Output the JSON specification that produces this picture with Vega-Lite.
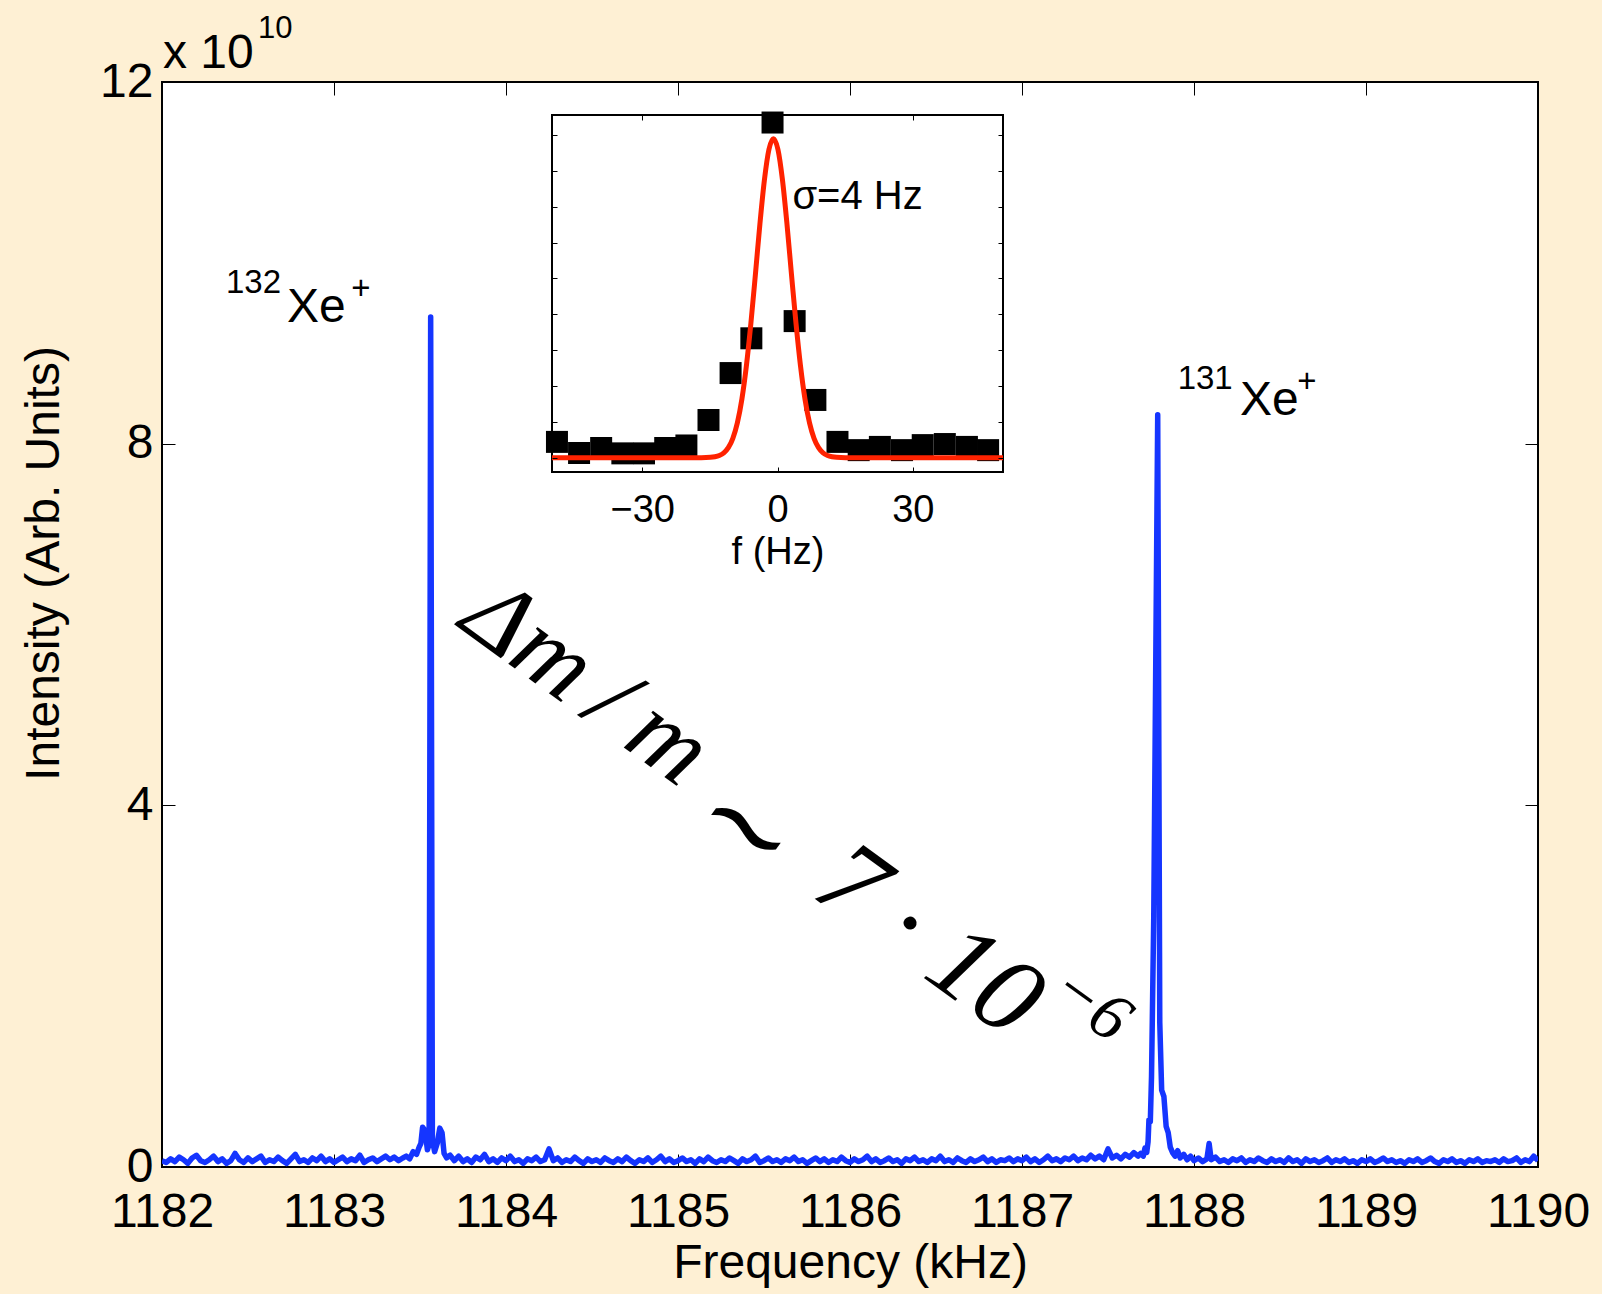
{
"$schema": "https://vega.github.io/schema/vega-lite/v6.json",
"width": 1376, "height": 1085,
"autosize": {"type": "none"},
"padding": {"left": 162, "top": 82, "right": 64, "bottom": 127},
"background": "#FEF0D4",
"config": {
 "font": "Liberation Sans",
 "view": {"fill": "white", "stroke": "black", "strokeWidth": 2},
 "axis": {"domain": false, "grid": false, "tickColor": "black", "labelColor": "black", "titleColor": "black", "titleFontWeight": "normal", "labelFont": "Liberation Sans", "titleFont": "Liberation Sans"}
},
"datasets": {
 "spectrum": [
  {"f":1182.000,"v":0.07},{"f":1182.025,"v":0.05},{"f":1182.050,"v":0.09},{"f":1182.075,"v":0.06},{"f":1182.100,"v":0.11},{"f":1182.125,"v":0.08},{"f":1182.150,"v":0.04},{"f":1182.175,"v":0.10},{"f":1182.200,"v":0.13},{"f":1182.225,"v":0.07},
  {"f":1182.250,"v":0.05},{"f":1182.275,"v":0.08},{"f":1182.300,"v":0.12},{"f":1182.325,"v":0.06},{"f":1182.350,"v":0.09},{"f":1182.375,"v":0.04},{"f":1182.400,"v":0.07},{"f":1182.425,"v":0.15},{"f":1182.450,"v":0.08},{"f":1182.475,"v":0.05},
  {"f":1182.500,"v":0.10},{"f":1182.525,"v":0.06},{"f":1182.550,"v":0.09},{"f":1182.575,"v":0.12},{"f":1182.600,"v":0.05},{"f":1182.625,"v":0.08},{"f":1182.650,"v":0.06},{"f":1182.675,"v":0.11},{"f":1182.700,"v":0.07},{"f":1182.725,"v":0.04},
  {"f":1182.750,"v":0.09},{"f":1182.775,"v":0.14},{"f":1182.800,"v":0.06},{"f":1182.825,"v":0.08},{"f":1182.850,"v":0.05},{"f":1182.875,"v":0.10},{"f":1182.900,"v":0.07},{"f":1182.925,"v":0.12},{"f":1182.950,"v":0.06},{"f":1182.975,"v":0.09},
  {"f":1183.000,"v":0.05},{"f":1183.025,"v":0.08},{"f":1183.050,"v":0.11},{"f":1183.075,"v":0.06},{"f":1183.100,"v":0.09},{"f":1183.125,"v":0.07},{"f":1183.150,"v":0.13},{"f":1183.175,"v":0.05},{"f":1183.200,"v":0.08},{"f":1183.225,"v":0.10},
  {"f":1183.250,"v":0.06},{"f":1183.275,"v":0.09},{"f":1183.300,"v":0.12},{"f":1183.325,"v":0.08},{"f":1183.350,"v":0.11},{"f":1183.375,"v":0.07},
  {"f":1183.400,"v":0.10},{"f":1183.420,"v":0.12},{"f":1183.440,"v":0.09},{"f":1183.460,"v":0.17},{"f":1183.480,"v":0.14},{"f":1183.495,"v":0.22},{"f":1183.505,"v":0.26},{"f":1183.515,"v":0.44},{"f":1183.530,"v":0.40},{"f":1183.543,"v":0.19},
  {"f":1183.553,"v":0.25},{"f":1183.562,"v":9.40},{"f":1183.572,"v":0.30},{"f":1183.585,"v":0.17},{"f":1183.600,"v":0.26},{"f":1183.615,"v":0.43},{"f":1183.628,"v":0.38},{"f":1183.640,"v":0.15},{"f":1183.655,"v":0.10},{"f":1183.675,"v":0.13},
  {"f":1183.700,"v":0.07},
  {"f":1183.725,"v":0.12},{"f":1183.750,"v":0.06},{"f":1183.775,"v":0.09},{"f":1183.800,"v":0.05},{"f":1183.825,"v":0.11},{"f":1183.850,"v":0.08},{"f":1183.875,"v":0.14},{"f":1183.900,"v":0.06},{"f":1183.925,"v":0.09},{"f":1183.950,"v":0.05},
  {"f":1183.975,"v":0.10},{"f":1184.000,"v":0.07},{"f":1184.025,"v":0.12},{"f":1184.050,"v":0.06},{"f":1184.075,"v":0.08},{"f":1184.100,"v":0.04},{"f":1184.125,"v":0.09},{"f":1184.150,"v":0.07},{"f":1184.175,"v":0.11},{"f":1184.200,"v":0.06},
  {"f":1184.225,"v":0.08},{"f":1184.250,"v":0.20},{"f":1184.275,"v":0.07},{"f":1184.300,"v":0.10},{"f":1184.325,"v":0.05},{"f":1184.350,"v":0.08},{"f":1184.375,"v":0.06},{"f":1184.400,"v":0.11},{"f":1184.425,"v":0.07},{"f":1184.450,"v":0.04},
  {"f":1184.475,"v":0.09},{"f":1184.500,"v":0.06},{"f":1184.525,"v":0.08},{"f":1184.550,"v":0.05},{"f":1184.575,"v":0.10},{"f":1184.600,"v":0.07},{"f":1184.625,"v":0.05},{"f":1184.650,"v":0.09},{"f":1184.675,"v":0.06},{"f":1184.700,"v":0.11},
  {"f":1184.725,"v":0.07},{"f":1184.750,"v":0.04},{"f":1184.775,"v":0.08},{"f":1184.800,"v":0.06},{"f":1184.825,"v":0.10},{"f":1184.850,"v":0.05},{"f":1184.875,"v":0.08},{"f":1184.900,"v":0.12},{"f":1184.925,"v":0.06},{"f":1184.950,"v":0.09},
  {"f":1184.975,"v":0.05},{"f":1185.000,"v":0.07},{"f":1185.025,"v":0.10},{"f":1185.050,"v":0.06},{"f":1185.075,"v":0.08},{"f":1185.100,"v":0.04},{"f":1185.125,"v":0.09},{"f":1185.150,"v":0.06},{"f":1185.175,"v":0.11},{"f":1185.200,"v":0.07},
  {"f":1185.225,"v":0.05},{"f":1185.250,"v":0.08},{"f":1185.275,"v":0.06},{"f":1185.300,"v":0.10},{"f":1185.325,"v":0.07},{"f":1185.350,"v":0.04},{"f":1185.375,"v":0.09},{"f":1185.400,"v":0.06},{"f":1185.425,"v":0.08},{"f":1185.450,"v":0.12},
  {"f":1185.475,"v":0.05},{"f":1185.500,"v":0.07},{"f":1185.525,"v":0.10},{"f":1185.550,"v":0.06},{"f":1185.575,"v":0.08},{"f":1185.600,"v":0.05},{"f":1185.625,"v":0.09},{"f":1185.650,"v":0.07},{"f":1185.675,"v":0.11},{"f":1185.700,"v":0.06},
  {"f":1185.725,"v":0.08},{"f":1185.750,"v":0.04},{"f":1185.775,"v":0.07},{"f":1185.800,"v":0.10},{"f":1185.825,"v":0.06},{"f":1185.850,"v":0.09},{"f":1185.875,"v":0.05},{"f":1185.900,"v":0.08},{"f":1185.925,"v":0.06},{"f":1185.950,"v":0.11},
  {"f":1185.975,"v":0.07},{"f":1186.000,"v":0.05},{"f":1186.025,"v":0.09},{"f":1186.050,"v":0.06},{"f":1186.075,"v":0.08},{"f":1186.100,"v":0.12},{"f":1186.125,"v":0.06},{"f":1186.150,"v":0.09},{"f":1186.175,"v":0.05},{"f":1186.200,"v":0.07},
  {"f":1186.225,"v":0.10},{"f":1186.250,"v":0.06},{"f":1186.275,"v":0.08},{"f":1186.300,"v":0.04},{"f":1186.325,"v":0.09},{"f":1186.350,"v":0.07},{"f":1186.375,"v":0.11},{"f":1186.400,"v":0.06},{"f":1186.425,"v":0.08},{"f":1186.450,"v":0.05},
  {"f":1186.475,"v":0.09},{"f":1186.500,"v":0.07},{"f":1186.525,"v":0.12},{"f":1186.550,"v":0.06},{"f":1186.575,"v":0.08},{"f":1186.600,"v":0.05},{"f":1186.625,"v":0.10},{"f":1186.650,"v":0.07},{"f":1186.675,"v":0.05},{"f":1186.700,"v":0.09},
  {"f":1186.725,"v":0.06},{"f":1186.750,"v":0.08},{"f":1186.775,"v":0.11},{"f":1186.800,"v":0.06},{"f":1186.825,"v":0.09},{"f":1186.850,"v":0.05},{"f":1186.875,"v":0.08},{"f":1186.900,"v":0.07},{"f":1186.925,"v":0.10},{"f":1186.950,"v":0.06},
  {"f":1186.975,"v":0.09},{"f":1187.000,"v":0.07},{"f":1187.025,"v":0.11},{"f":1187.050,"v":0.06},{"f":1187.075,"v":0.09},{"f":1187.100,"v":0.05},{"f":1187.125,"v":0.08},{"f":1187.150,"v":0.12},{"f":1187.175,"v":0.07},{"f":1187.200,"v":0.09},
  {"f":1187.225,"v":0.06},{"f":1187.250,"v":0.10},{"f":1187.275,"v":0.08},{"f":1187.300,"v":0.12},{"f":1187.325,"v":0.07},{"f":1187.350,"v":0.10},{"f":1187.375,"v":0.08},{"f":1187.400,"v":0.13},{"f":1187.425,"v":0.09},{"f":1187.450,"v":0.12},
  {"f":1187.475,"v":0.08},{"f":1187.500,"v":0.20},{"f":1187.525,"v":0.10},{"f":1187.550,"v":0.13},{"f":1187.575,"v":0.09},{"f":1187.600,"v":0.14},{"f":1187.625,"v":0.11},{"f":1187.650,"v":0.16},{"f":1187.675,"v":0.12},
  {"f":1187.690,"v":0.15},{"f":1187.705,"v":0.12},{"f":1187.715,"v":0.21},{"f":1187.725,"v":0.16},{"f":1187.733,"v":0.28},{"f":1187.738,"v":0.52},{"f":1187.746,"v":0.50},{"f":1187.753,"v":1.00},{"f":1187.766,"v":2.77},{"f":1187.789,"v":8.32},
  {"f":1187.801,"v":1.60},{"f":1187.812,"v":0.85},{"f":1187.825,"v":0.78},{"f":1187.838,"v":0.45},{"f":1187.850,"v":0.38},{"f":1187.862,"v":0.22},{"f":1187.875,"v":0.16},{"f":1187.890,"v":0.12},{"f":1187.905,"v":0.18},{"f":1187.920,"v":0.10},
  {"f":1187.940,"v":0.14},{"f":1187.960,"v":0.08},{"f":1187.980,"v":0.12},{"f":1188.000,"v":0.07},{"f":1188.025,"v":0.10},{"f":1188.050,"v":0.06},{"f":1188.075,"v":0.09},{"f":1188.088,"v":0.26},{"f":1188.100,"v":0.08},{"f":1188.125,"v":0.11},
  {"f":1188.150,"v":0.06},{"f":1188.175,"v":0.08},{"f":1188.200,"v":0.05},{"f":1188.225,"v":0.09},{"f":1188.250,"v":0.07},{"f":1188.275,"v":0.10},{"f":1188.300,"v":0.05},{"f":1188.325,"v":0.08},{"f":1188.350,"v":0.06},{"f":1188.375,"v":0.10},
  {"f":1188.400,"v":0.07},{"f":1188.425,"v":0.05},{"f":1188.450,"v":0.09},{"f":1188.475,"v":0.06},{"f":1188.500,"v":0.08},{"f":1188.525,"v":0.05},{"f":1188.550,"v":0.10},{"f":1188.575,"v":0.06},{"f":1188.600,"v":0.08},{"f":1188.625,"v":0.04},
  {"f":1188.650,"v":0.09},{"f":1188.675,"v":0.06},{"f":1188.700,"v":0.08},{"f":1188.725,"v":0.05},{"f":1188.750,"v":0.07},{"f":1188.775,"v":0.10},{"f":1188.800,"v":0.05},{"f":1188.825,"v":0.08},{"f":1188.850,"v":0.06},{"f":1188.875,"v":0.09},
  {"f":1188.900,"v":0.05},{"f":1188.925,"v":0.07},{"f":1188.950,"v":0.04},{"f":1188.975,"v":0.08},{"f":1189.000,"v":0.06},{"f":1189.025,"v":0.09},{"f":1189.050,"v":0.05},{"f":1189.075,"v":0.07},{"f":1189.100,"v":0.10},{"f":1189.125,"v":0.06},
  {"f":1189.150,"v":0.08},{"f":1189.175,"v":0.05},{"f":1189.200,"v":0.07},{"f":1189.225,"v":0.04},{"f":1189.250,"v":0.08},{"f":1189.275,"v":0.06},{"f":1189.300,"v":0.09},{"f":1189.325,"v":0.05},{"f":1189.350,"v":0.07},{"f":1189.375,"v":0.10},
  {"f":1189.400,"v":0.06},{"f":1189.425,"v":0.04},{"f":1189.450,"v":0.08},{"f":1189.475,"v":0.06},{"f":1189.500,"v":0.09},{"f":1189.525,"v":0.05},{"f":1189.550,"v":0.07},{"f":1189.575,"v":0.04},{"f":1189.600,"v":0.08},{"f":1189.625,"v":0.06},
  {"f":1189.650,"v":0.09},{"f":1189.675,"v":0.05},{"f":1189.700,"v":0.07},{"f":1189.725,"v":0.06},{"f":1189.750,"v":0.08},{"f":1189.775,"v":0.05},{"f":1189.800,"v":0.09},{"f":1189.825,"v":0.06},{"f":1189.850,"v":0.07},{"f":1189.875,"v":0.10},
  {"f":1189.900,"v":0.05},{"f":1189.925,"v":0.08},{"f":1189.950,"v":0.06},{"f":1189.975,"v":0.12},{"f":1190.000,"v":0.07}
 ],
 "squares": [
  {"hz":-48.9,"a":0.44},{"hz":-44.0,"a":0.13},{"hz":-39.1,"a":0.27},{"hz":-34.4,"a":0.12},{"hz":-29.6,"a":0.12},{"hz":-24.9,"a":0.27},{"hz":-20.2,"a":0.34},
  {"hz":-15.3,"a":1.05},{"hz":-10.4,"a":2.36},{"hz":-5.8,"a":3.33},{"hz":-1.1,"a":9.35},{"hz":3.8,"a":3.81},{"hz":8.4,"a":1.61},{"hz":13.3,"a":0.44},
  {"hz":18.0,"a":0.21},{"hz":22.7,"a":0.30},{"hz":27.6,"a":0.21},{"hz":32.2,"a":0.35},{"hz":37.1,"a":0.38},{"hz":42.0,"a":0.30},{"hz":46.7,"a":0.21}
 ],
 "fit": [
  {"hz":-50,"a":0},{"hz":-20,"a":0},{"hz":-16.9,"a":0.001},{"hz":-14.9,"a":0.010},{"hz":-13.9,"a":0.026},{"hz":-12.9,"a":0.061},{"hz":-11.9,"a":0.135},
  {"hz":-10.9,"a":0.28},{"hz":-9.9,"a":0.54},{"hz":-8.9,"a":0.97},{"hz":-7.9,"a":1.63},{"hz":-6.9,"a":2.56},{"hz":-5.9,"a":3.75},{"hz":-4.9,"a":5.11},
  {"hz":-3.9,"a":6.52},{"hz":-2.9,"a":7.75},{"hz":-1.9,"a":8.60},{"hz":-0.9,"a":8.90},{"hz":0.1,"a":8.60},{"hz":1.1,"a":7.75},{"hz":2.1,"a":6.52},
  {"hz":3.1,"a":5.11},{"hz":4.1,"a":3.75},{"hz":5.1,"a":2.56},{"hz":6.1,"a":1.63},{"hz":7.1,"a":0.97},{"hz":8.1,"a":0.54},{"hz":9.1,"a":0.28},
  {"hz":10.1,"a":0.135},{"hz":11.1,"a":0.061},{"hz":12.1,"a":0.026},{"hz":13.1,"a":0.010},{"hz":15.1,"a":0.001},{"hz":20,"a":0},{"hz":50,"a":0}
 ],
 "bigLabels": [
  {"f":1182.727,"v":9.35,"t":"Xe"},
  {"f":1188.267,"v":8.32,"t":"Xe"}
 ],
 "smallLabels": [
  {"f":1182.372,"v":9.67,"t":"132"},
  {"f":1183.100,"v":9.60,"t":"+"},
  {"f":1187.905,"v":8.61,"t":"131"},
  {"f":1188.600,"v":8.57,"t":"+"}
 ]
},
"resolve": {"scale": {"x": "independent", "y": "independent"}, "axis": {"x": "independent", "y": "independent"}},
"layer": [
 {
  "data": {"name": "spectrum"},
  "mark": {"type": "line", "color": "#1535FF", "strokeWidth": 5.5, "strokeJoin": "round", "clip": true},
  "encoding": {
   "x": {"field": "f", "type": "quantitative",
    "scale": {"domain": [1182, 1190], "nice": false, "zero": false},
    "axis": {"orient": "bottom", "values": [1182,1183,1184,1185,1186,1187,1188,1189,1190], "format": "d",
     "tickSize": -13, "tickWidth": 1, "labelFontSize": 48, "labelPadding": 34, "labelFlush": false,
     "title": "Frequency (kHz)", "titleFontSize": 48, "titleY": 110, "titleBaseline": "alphabetic"}},
   "y": {"field": "v", "type": "quantitative",
    "scale": {"domain": [0, 12], "nice": false},
    "axis": {"orient": "left", "values": [0, 4, 8, 12], "tickSize": -13, "tickWidth": 1, "labelFontSize": 48, "labelPadding": 22, "labelFlush": false,
     "title": "Intensity (Arb. Units)", "titleFontSize": 48, "titleAngle": -90, "titleX": -104, "titleY": 481, "titleBaseline": "alphabetic", "titleAlign": "center"}}
  }
 },
 {
  "data": {"name": "bigLabels"},
  "mark": {"type": "text", "fontSize": 48, "align": "left", "baseline": "alphabetic", "color": "black"},
  "encoding": {
   "x": {"field": "f", "type": "quantitative", "scale": {"domain": [1182, 1190], "nice": false, "zero": false},
    "axis": {"orient": "top", "values": [1182,1183,1184,1185,1186,1187,1188,1189,1190], "labels": false, "tickSize": -13, "tickWidth": 1, "title": null}},
   "y": {"field": "v", "type": "quantitative", "scale": {"domain": [0, 12], "nice": false},
    "axis": {"orient": "right", "values": [0, 4, 8, 12], "labels": false, "tickSize": -13, "tickWidth": 1, "title": null}},
   "text": {"field": "t"}
  }
 },
 {
  "data": {"name": "smallLabels"},
  "mark": {"type": "text", "fontSize": 33, "align": "left", "baseline": "alphabetic", "color": "black"},
  "encoding": {
   "x": {"field": "f", "type": "quantitative", "scale": {"domain": [1182, 1190], "nice": false, "zero": false}, "axis": null},
   "y": {"field": "v", "type": "quantitative", "scale": {"domain": [0, 12], "nice": false}, "axis": null},
   "text": {"field": "t"}
  }
 },
 {
  "data": {"values": [{}]},
  "mark": {"type": "text", "fontSize": 48, "align": "left", "baseline": "alphabetic", "dx": 1, "dy": -14, "color": "black"},
  "encoding": {
   "x": {"datum": 1182, "type": "quantitative", "scale": {"domain": [1182, 1190], "nice": false, "zero": false}, "axis": null},
   "y": {"datum": 12, "type": "quantitative", "scale": {"domain": [0, 12], "nice": false}, "axis": null},
   "text": {"value": "x 10"}
  }
 },
 {
  "data": {"values": [{}]},
  "mark": {"type": "text", "fontSize": 31, "align": "left", "baseline": "alphabetic", "dx": 96, "dy": -44, "color": "black"},
  "encoding": {
   "x": {"datum": 1182, "type": "quantitative", "scale": {"domain": [1182, 1190], "nice": false, "zero": false}, "axis": null},
   "y": {"datum": 12, "type": "quantitative", "scale": {"domain": [0, 12], "nice": false}, "axis": null},
   "text": {"value": "10"}
  }
 },
 {
  "data": {"values": [{}]},
  "mark": {"type": "text", "font": "Liberation Serif", "fontStyle": "italic", "fontSize": 102, "align": "center", "baseline": "middle", "angle": 36, "color": "black"},
  "encoding": {
   "x": {"datum": 1184.47, "type": "quantitative", "scale": {"domain": [1182, 1190], "nice": false, "zero": false}, "axis": null},
   "y": {"datum": 5.36, "type": "quantitative", "scale": {"domain": [0, 12], "nice": false}, "axis": null},
   "text": {"value": "Δm\u2009/\u2009m"}
  }
 },
 {
  "data": {"values": [{}]},
  "mark": {"type": "text", "font": "DejaVu Serif", "fontSize": 116, "align": "center", "baseline": "middle", "angle": 36, "color": "black"},
  "encoding": {
   "x": {"datum": 1185.39, "type": "quantitative", "scale": {"domain": [1182, 1190], "nice": false, "zero": false}, "axis": null},
   "y": {"datum": 3.728, "type": "quantitative", "scale": {"domain": [0, 12], "nice": false}, "axis": null},
   "text": {"value": "∼"}
  }
 },
 {
  "data": {"values": [{}]},
  "mark": {"type": "text", "font": "Liberation Serif", "fontStyle": "italic", "fontSize": 110, "align": "center", "baseline": "middle", "angle": 36, "color": "black"},
  "encoding": {
   "x": {"datum": 1186.46, "type": "quantitative", "scale": {"domain": [1182, 1190], "nice": false, "zero": false}, "axis": null},
   "y": {"datum": 2.50, "type": "quantitative", "scale": {"domain": [0, 12], "nice": false}, "axis": null},
   "text": {"value": "7 · 10"}
  }
 },
 {
  "data": {"values": [{}]},
  "mark": {"type": "text", "font": "Liberation Serif", "fontStyle": "italic", "fontSize": 68, "align": "center", "baseline": "middle", "angle": 36, "color": "black"},
  "encoding": {
   "x": {"datum": 1187.40, "type": "quantitative", "scale": {"domain": [1182, 1190], "nice": false, "zero": false}, "axis": null},
   "y": {"datum": 1.80, "type": "quantitative", "scale": {"domain": [0, 12], "nice": false}, "axis": null},
   "text": {"value": "−6"}
  }
 },
 {
  "data": {"values": [{}]},
  "mark": {"type": "rect", "fill": "white", "stroke": "black", "strokeWidth": 2},
  "encoding": {
   "x": {"datum": -50, "type": "quantitative", "scale": {"domain": [-50, 50], "range": [390, 841], "nice": false, "zero": false},
    "axis": {"orient": "bottom", "offset": -695, "zindex": 1, "values": [-30, 0, 30], "tickSize": -5, "tickWidth": 1, "labelFontSize": 38, "labelPadding": 24, "labelFlush": false,
     "title": "f (Hz)", "titleFontSize": 38, "titleY": 91, "titleBaseline": "alphabetic"}},
   "x2": {"datum": 50},
   "y": {"datum": -0.4, "type": "quantitative", "scale": {"domain": [-0.4, 9.56], "range": [390, 33], "nice": false, "zero": false},
    "axis": {"orient": "left", "offset": -390, "zindex": 1, "values": [0,1,2,3,4,5,6,7,8,9], "labels": false, "tickSize": -5, "tickWidth": 1, "title": null}},
   "y2": {"datum": 9.56}
  }
 },
 {
  "data": {"name": "squares"},
  "mark": {"type": "point", "shape": "square", "filled": true, "size": 484, "color": "black", "opacity": 1},
  "encoding": {
   "x": {"field": "hz", "type": "quantitative", "scale": {"domain": [-50, 50], "range": [390, 841], "nice": false, "zero": false},
    "axis": {"orient": "top", "offset": -33, "zindex": 1, "values": [-30, 0, 30], "labels": false, "tickSize": -5, "tickWidth": 1, "title": null}},
   "y": {"field": "a", "type": "quantitative", "scale": {"domain": [-0.4, 9.56], "range": [390, 33], "nice": false, "zero": false},
    "axis": {"orient": "right", "offset": -535, "zindex": 1, "values": [0,1,2,3,4,5,6,7,8,9], "labels": false, "tickSize": -5, "tickWidth": 1, "title": null}}
  }
 },
 {
  "data": {"name": "fit"},
  "mark": {"type": "line", "color": "#FF2200", "strokeWidth": 5, "interpolate": "monotone"},
  "encoding": {
   "x": {"field": "hz", "type": "quantitative", "scale": {"domain": [-50, 50], "range": [390, 841], "nice": false, "zero": false}, "axis": null},
   "y": {"field": "a", "type": "quantitative", "scale": {"domain": [-0.4, 9.56], "range": [390, 33], "nice": false, "zero": false}, "axis": null}
  }
 },
 {
  "data": {"values": [{}]},
  "mark": {"type": "text", "fontSize": 40, "align": "left", "baseline": "alphabetic", "color": "black"},
  "encoding": {
   "x": {"datum": 3.3, "type": "quantitative", "scale": {"domain": [-50, 50], "range": [390, 841], "nice": false, "zero": false}, "axis": null},
   "y": {"datum": 6.95, "type": "quantitative", "scale": {"domain": [-0.4, 9.56], "range": [390, 33], "nice": false, "zero": false}, "axis": null},
   "text": {"value": "σ=4 Hz"}
  }
 }
]
}
